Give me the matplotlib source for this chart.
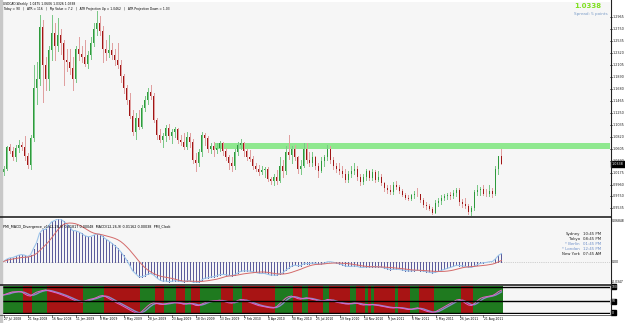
import matplotlib
matplotlib.use("Agg")
import matplotlib.pyplot as plt
from matplotlib.patches import Rectangle
from matplotlib.lines import Line2D
import numpy as np
import pandas as pd

W, H = 625, 323

# weekly USDCAD candles, 27 Jul 2008 .. 2 Oct 2011
opens = [1.0190, 1.0250, 1.0630, 1.0570, 1.0450, 1.0620, 1.0680, 1.0640, 1.0470, 1.0320,
         1.0800, 1.1700, 1.1850, 1.2780, 1.2100, 1.1850, 1.2370, 1.2680, 1.2450, 1.2650,
         1.2500, 1.2200, 1.2150, 1.2050, 1.1850, 1.2400, 1.2300, 1.2250, 1.2130, 1.2280,
         1.2500, 1.2750, 1.2850, 1.2720, 1.2400, 1.2320, 1.2380, 1.2280, 1.2200, 1.2100,
         1.1900, 1.1700, 1.1480, 1.1200, 1.0900, 1.1150, 1.1000, 1.1330, 1.1480, 1.1620,
         1.1550, 1.1120, 1.0850, 1.0770, 1.0830, 1.0980, 1.0830, 1.0900, 1.0950, 1.0760,
         1.0720, 1.0640, 1.0820, 1.0720, 1.0400, 1.0350, 1.0550, 1.0850, 1.0800, 1.0600,
         1.0650, 1.0580, 1.0620, 1.0700, 1.0560, 1.0460, 1.0350, 1.0300, 1.0550, 1.0680,
         1.0700, 1.0560, 1.0450, 1.0420, 1.0300, 1.0250, 1.0180, 1.0220, 1.0250, 1.0060,
         1.0020, 1.0100, 1.0020, 1.0300, 1.0200, 1.0550, 1.0500, 1.0600, 1.0450, 1.0250,
         1.0300, 1.0600, 1.0400, 1.0350, 1.0450, 1.0300, 1.0200, 1.0380, 1.0450, 1.0600,
         1.0400, 1.0300, 1.0250, 1.0200, 1.0150, 1.0050, 1.0150, 1.0200, 1.0250, 1.0100,
         1.0000, 1.0100, 1.0200, 1.0080, 1.0180, 1.0050, 1.0100, 0.9990, 0.9900, 0.9860,
         0.9830, 0.9950, 0.9920, 0.9850, 0.9780, 0.9730, 0.9710, 0.9770, 0.9800, 0.9790,
         0.9680, 0.9590, 0.9580, 0.9520, 0.9460, 0.9640, 0.9670, 0.9730, 0.9760, 0.9780,
         0.9760, 0.9820, 0.9860, 0.9650, 0.9620, 0.9580, 0.9480, 0.9550, 0.9830, 0.9860,
         0.9880, 0.9800, 0.9790, 0.9850, 0.9800, 1.0240, 1.0475]
highs = [1.0300, 1.0660, 1.0690, 1.0640, 1.0680, 1.0770, 1.0730, 1.0840, 1.0530, 1.0850,
         1.2100, 1.2150, 1.3000, 1.2920, 1.2250, 1.2450, 1.3000, 1.2850, 1.2950, 1.2750,
         1.2550, 1.2400, 1.2400, 1.2250, 1.2450, 1.2600, 1.2450, 1.2550, 1.2350, 1.2600,
         1.2850, 1.3070, 1.2980, 1.2800, 1.2550, 1.2650, 1.2500, 1.2400, 1.2500, 1.2200,
         1.1950, 1.1750, 1.1600, 1.1300, 1.1250, 1.1300, 1.1380, 1.1550, 1.1700, 1.1750,
         1.1600, 1.1150, 1.0950, 1.0880, 1.1030, 1.1050, 1.0950, 1.1000, 1.0980, 1.0850,
         1.0880, 1.0900, 1.0880, 1.0780, 1.0520, 1.0600, 1.0900, 1.0880, 1.0830, 1.0700,
         1.0720, 1.0700, 1.0750, 1.0730, 1.0620, 1.0500, 1.0450, 1.0600, 1.0720, 1.0780,
         1.0730, 1.0600, 1.0580, 1.0480, 1.0350, 1.0320, 1.0300, 1.0280, 1.0280, 1.0100,
         1.0150, 1.0220, 1.0450, 1.0400, 1.0650, 1.0850, 1.0650, 1.0680, 1.0480, 1.0400,
         1.0700, 1.0700, 1.0550, 1.0550, 1.0480, 1.0350, 1.0450, 1.0500, 1.0680, 1.0650,
         1.0450, 1.0350, 1.0350, 1.0300, 1.0250, 1.0200, 1.0300, 1.0350, 1.0300, 1.0150,
         1.0150, 1.0250, 1.0230, 1.0250, 1.0220, 1.0200, 1.0150, 1.0000, 0.9950, 0.9950,
         1.0000, 1.0030, 0.9950, 0.9880, 0.9820, 0.9780, 0.9800, 0.9850, 0.9900, 0.9800,
         0.9720, 0.9650, 0.9620, 0.9560, 0.9680, 0.9720, 0.9780, 0.9800, 0.9820, 0.9830,
         0.9860, 0.9900, 0.9900, 0.9700, 0.9720, 0.9620, 0.9580, 0.9870, 0.9950, 0.9920,
         0.9950, 0.9880, 0.9950, 0.9900, 1.0300, 1.0480, 1.0606]
lows = [1.0130, 1.0220, 1.0520, 1.0400, 1.0380, 1.0550, 1.0580, 1.0400, 1.0260, 1.0250,
        1.0750, 1.1400, 1.1750, 1.1450, 1.1650, 1.1650, 1.2200, 1.2200, 1.2350, 1.2300,
        1.1750, 1.2000, 1.1950, 1.1650, 1.1800, 1.2200, 1.2150, 1.2080, 1.2050, 1.2220,
        1.2450, 1.2650, 1.2650, 1.2150, 1.2200, 1.2250, 1.2220, 1.2100, 1.2050, 1.1800,
        1.1600, 1.1400, 1.1150, 1.0850, 1.0780, 1.0950, 1.0980, 1.1280, 1.1400, 1.1500,
        1.1080, 1.0780, 1.0730, 1.0630, 1.0750, 1.0780, 1.0700, 1.0820, 1.0700, 1.0680,
        1.0600, 1.0600, 1.0640, 1.0350, 1.0200, 1.0300, 1.0480, 1.0680, 1.0550, 1.0520,
        1.0480, 1.0520, 1.0560, 1.0500, 1.0400, 1.0250, 1.0200, 1.0250, 1.0500, 1.0600,
        1.0480, 1.0400, 1.0380, 1.0250, 1.0200, 1.0130, 1.0150, 1.0100, 1.0020, 0.9970,
        0.9950, 0.9980, 1.0000, 1.0100, 1.0150, 1.0420, 1.0350, 1.0400, 1.0170, 1.0150,
        1.0280, 1.0350, 1.0300, 1.0300, 1.0250, 1.0100, 1.0180, 1.0300, 1.0400, 1.0350,
        1.0250, 1.0180, 1.0150, 1.0100, 1.0000, 1.0000, 1.0100, 1.0150, 1.0050, 0.9950,
        0.9980, 1.0050, 1.0050, 1.0050, 1.0000, 1.0020, 0.9950, 0.9850, 0.9820, 0.9800,
        0.9800, 0.9880, 0.9820, 0.9750, 0.9700, 0.9680, 0.9680, 0.9720, 0.9750, 0.9650,
        0.9560, 0.9530, 0.9500, 0.9430, 0.9450, 0.9580, 0.9620, 0.9680, 0.9700, 0.9700,
        0.9720, 0.9760, 0.9600, 0.9560, 0.9550, 0.9430, 0.9406, 0.9500, 0.9780, 0.9780,
        0.9770, 0.9760, 0.9750, 0.9740, 0.9780, 1.0150, 1.0326]
closes = [1.0250, 1.0630, 1.0570, 1.0450, 1.0620, 1.0680, 1.0640, 1.0470, 1.0320, 1.0800,
          1.1700, 1.1850, 1.2780, 1.2100, 1.1850, 1.2370, 1.2680, 1.2450, 1.2650, 1.2500,
          1.2200, 1.2150, 1.2050, 1.1850, 1.2400, 1.2300, 1.2250, 1.2130, 1.2280, 1.2500,
          1.2750, 1.2850, 1.2720, 1.2400, 1.2320, 1.2380, 1.2280, 1.2200, 1.2100, 1.1900,
          1.1700, 1.1480, 1.1200, 1.0900, 1.1150, 1.1000, 1.1330, 1.1480, 1.1620, 1.1550,
          1.1120, 1.0850, 1.0770, 1.0830, 1.0980, 1.0830, 1.0900, 1.0950, 1.0760, 1.0720,
          1.0640, 1.0820, 1.0720, 1.0400, 1.0350, 1.0550, 1.0850, 1.0800, 1.0600, 1.0650,
          1.0580, 1.0620, 1.0700, 1.0560, 1.0460, 1.0350, 1.0300, 1.0550, 1.0680, 1.0700,
          1.0560, 1.0450, 1.0420, 1.0300, 1.0250, 1.0180, 1.0220, 1.0250, 1.0060, 1.0020,
          1.0100, 1.0020, 1.0300, 1.0200, 1.0550, 1.0500, 1.0600, 1.0450, 1.0250, 1.0300,
          1.0600, 1.0400, 1.0350, 1.0450, 1.0300, 1.0200, 1.0380, 1.0450, 1.0600, 1.0400,
          1.0300, 1.0250, 1.0200, 1.0150, 1.0050, 1.0150, 1.0200, 1.0250, 1.0100, 1.0000,
          1.0100, 1.0200, 1.0080, 1.0180, 1.0050, 1.0100, 0.9990, 0.9900, 0.9860, 0.9830,
          0.9950, 0.9920, 0.9850, 0.9780, 0.9730, 0.9710, 0.9770, 0.9800, 0.9790, 0.9680,
          0.9590, 0.9580, 0.9520, 0.9460, 0.9640, 0.9670, 0.9730, 0.9760, 0.9780, 0.9760,
          0.9820, 0.9860, 0.9650, 0.9620, 0.9580, 0.9480, 0.9550, 0.9830, 0.9860, 0.9880,
          0.9800, 0.9790, 0.9850, 0.9800, 1.0240, 1.0475, 1.0338]

# oscillator in the bottom window (0..100)
osc = [68, 72, 76, 79, 79, 80, 79, 72, 66, 64, 72, 78, 81, 84, 86, 83, 80, 77, 74, 70,
       66, 62, 57, 52, 47, 44, 43, 46, 50, 53, 55, 59, 64, 66, 62, 56, 50, 44, 38, 33,
       27, 21, 15, 9, 4, 2, 8, 18, 28, 36, 40, 38, 35, 34, 36, 39, 40, 41, 40, 38,
       35, 36, 39, 36, 31, 30, 35, 40, 44, 46, 47, 48, 49, 47, 43, 40, 39, 42, 48, 52,
       50, 46, 42, 38, 34, 30, 28, 26, 24, 22, 22, 26, 36, 46, 56, 62, 64, 60, 55, 53,
       56, 58, 55, 52, 50, 46, 45, 48, 52, 50, 46, 42, 40, 38, 36, 36, 38, 40, 38, 34,
       32, 34, 33, 34, 32, 30, 28, 26, 24, 22, 22, 24, 22, 20, 18, 16, 17, 20, 22, 18,
       14, 10, 7, 5, 8, 14, 20, 26, 32, 38, 44, 50, 52, 46, 38, 32, 30, 38, 48, 56,
       60, 62, 64, 66, 72, 80, 85]

# bar colour runs of the bottom window
stripe_runs = [("G", 7), ("R", 3), ("G", 5), ("R", 12), ("G", 7), ("R", 12), ("G", 5),
               ("R", 3), ("G", 4), ("R", 3), ("G", 2), ("R", 3), ("G", 7), ("R", 4),
               ("G", 3), ("R", 11), ("G", 6), ("R", 3), ("G", 2), ("R", 5), ("G", 2),
               ("R", 7), ("G", 2), ("R", 3), ("G", 1), ("R", 1), ("G", 1), ("R", 7),
               ("G", 1), ("R", 4), ("G", 3), ("R", 5), ("G", 9), ("R", 4), ("G", 10)]

price_ticks = [1.2965, 1.2750, 1.2535, 1.2320, 1.2105, 1.1890, 1.1680, 1.1465, 1.1250,
               1.1035, 1.0820, 1.0605, 1.0390, 1.0175, 0.9960, 0.9750, 0.9535]
date_labels = ["27 Jul 2008", "21 Sep 2008", "16 Nov 2008", "11 Jan 2009", "8 Mar 2009",
               "3 May 2009", "28 Jun 2009", "23 Aug 2009", "18 Oct 2009", "13 Dec 2009",
               "7 Feb 2010", "4 Apr 2010", "30 May 2010", "25 Jul 2010", "19 Sep 2010",
               "14 Nov 2010", "9 Jan 2011", "6 Mar 2011", "1 May 2011", "26 Jun 2011",
               "21 Aug 2011"]
zone_lo, zone_hi = 1.0600, 1.0707
last_price = 1.0338

cities = ["Sydney", "Tokyo", "* Berlin", "* London", "New York"]
times = ["10:45 PM", "08:45 PM", "01:45 PM", "12:45 PM", "07:45 AM"]

n = len(closes)
idx = np.arange(n)

fig = plt.figure(figsize=(W / 100, H / 100), dpi=100)
fig.patch.set_facecolor("white")


def px_axes(x0, y0, x1, y1, bg="#f6f6f6"):
    ax = fig.add_axes([x0 / W, 1 - y1 / H, (x1 - x0) / W, (y1 - y0) / H])
    ax.set_xticks([])
    ax.set_yticks([])
    for s in ax.spines.values():
        s.set_visible(False)
    ax.set_facecolor(bg)
    ax.set_xlim(-0.17, 202.17)
    return ax


def ftext(x, y, s, **kw):
    fig.text(x / W, 1 - y / H, s, **kw)


def fline(x0, y0, x1, y1, **kw):
    fig.add_artist(Line2D([x0 / W, x1 / W], [1 - y0 / H, 1 - y1 / H], **kw))


def i2px(i):
    return 3.5 + 3.0 * i


# ---- main price window
ax = px_axes(3, 2, 610, 216)
ymin, ymax = 0.93996, 1.32338
ax.set_ylim(ymin, ymax)
ax.axhspan(zone_lo, zone_hi, xmin=(70 + 0.17) / 202.34, xmax=1, color="#8fe88f", lw=0)

o = np.array(opens)
c = np.array(closes)
up = c >= o
wick_col = np.where(up, "#7cc888", "#e0a0a0")
ax.vlines(idx, lows, highs, colors=wick_col, lw=0.7, antialiased=False, zorder=2)
body_lo = np.minimum(o, c)
body_h = np.maximum(np.abs(c - o), 0.0012)
ax.bar(idx, body_h, bottom=body_lo, width=0.6,
       color=np.where(up, "#2e9a3c", "#a01515"), lw=0, antialiased=False, zorder=3)


def py(p):
    return 2 + (ymax - p) / (ymax - ymin) * 214


for p in price_ticks:
    fline(610, py(p), 612, py(p), color="#333333", lw=0.5)
    ftext(613, py(p), "%.4f" % p, fontsize=2.4, va="center", color="#222222")
yb = py(last_price)
fig.add_artist(Rectangle((611 / W, 1 - (yb + 3) / H), 14 / W, 6 / H,
                         transform=fig.transFigure, color="black"))
ftext(612, yb, "%.4f" % last_price, fontsize=2.4, va="center", color="white")

ftext(3, 4, "USDCAD,Weekly  1.0475 1.0606 1.0326 1.0338", fontsize=2.2, va="center")
ftext(3, 9, "Today = 90   |   ATR = 116   |   Pip Value = 7.2   |   "
            "ATR Projection Up = 1.0462   |   ATR Projection Down = 1.03",
      fontsize=2.2, va="center")
ftext(601, 6.5, "1.0338", fontsize=5, fontweight="bold", color="#7fe020",
      ha="right", va="center")
ftext(608, 14, "Spread: 5 points", fontsize=3, color="#7a9cc8", ha="right", va="center")

# ---- MACD window
cs = pd.Series(closes)
macd = cs.ewm(span=12, adjust=False).mean() - cs.ewm(span=26, adjust=False).mean()
signal = macd.rolling(9, min_periods=1).mean()

am = px_axes(3, 219, 610, 283)
am.set_ylim(macd.min(), macd.max())
am.axhline(0, color="#aaaaaa", lw=0.5, ls=":")
am.vlines(idx, 0, macd, colors="#5c5c9c", lw=0.6, antialiased=False)
am.plot(idx, macd, color="#9cc4ea", lw=0.8)
am.plot(idx, signal, color="#d46a6a", lw=0.7)

ftext(3, 227, "PMI_MACD_Divergence_v1(12,26,9) 0.01817 0.00048  "
              "MACD(12,26,9) 0.01162 0.00038  PMI_Clock", fontsize=2.4, va="center")
for k, (cty, tm) in enumerate(zip(cities, times)):
    col = "#6a8cc8" if cty.startswith("*") else "#222222"
    ftext(580, 234 + k * 5, cty, fontsize=2.8, ha="right", va="center", color=col)
    ftext(583, 234 + k * 5, tm, fontsize=2.8, ha="left", va="center", color=col)
zero_y = 219 + macd.max() / (macd.max() - macd.min()) * 64
ftext(612, 221, "0.06848", fontsize=2.2, va="center")
ftext(612, zero_y, "0.00", fontsize=2.2, va="center")
ftext(612, 282, "-0.0347", fontsize=2.2, va="center")

# ---- bottom window
ab = px_axes(3, 286, 610, 314)
ab.set_ylim(0, 100)
stripe_cols = []
for tag, cnt in stripe_runs:
    stripe_cols += ["#1f7a1f" if tag == "G" else "#a81414"] * cnt
ab.bar(idx, 100, width=1.0, color=stripe_cols, lw=0, antialiased=False)
ks = pd.Series(osc)
ds = ks.rolling(3, min_periods=1).mean()
ab.plot(idx, ds, color="#8a8ac8", lw=1.0)
ab.plot(idx, ks, color="#e860c8", lw=0.7)
levels = [97, 46, 4]
for lv in levels:
    ab.axhline(lv, color="black", lw=1.0)
for lv, lab in zip(levels, ["100", "50", "0"]):
    yy = 314 - lv / 100 * 28
    fig.add_artist(Rectangle((611 / W, 1 - (yy + 2.5) / H), 5 / W, 5 / H,
                             transform=fig.transFigure, color="black"))
    ftext(611.5, yy, lab, fontsize=2.2, va="center", color="white")

# ---- frame lines
fig.add_artist(Rectangle((0, 0), 2 / W, 1, transform=fig.transFigure, color="#c8c8c8"))
fline(0, 217, 611, 217, color="#222222", lw=1.2)
fline(0, 284.5, 611, 284.5, color="#222222", lw=1.2)
fline(0, 314.5, 611, 314.5, color="#555555", lw=0.6)
fline(610.5, 0, 610.5, 315, color="#222222", lw=0.8)

for k, lab in enumerate(date_labels):
    xx = i2px(8 * k)
    fline(xx, 314.5, xx, 316.5, color="#333333", lw=0.5)
    ftext(xx + 0.5, 319, lab, fontsize=2.2, va="center")

fig.savefig("out.png", dpi=100)
